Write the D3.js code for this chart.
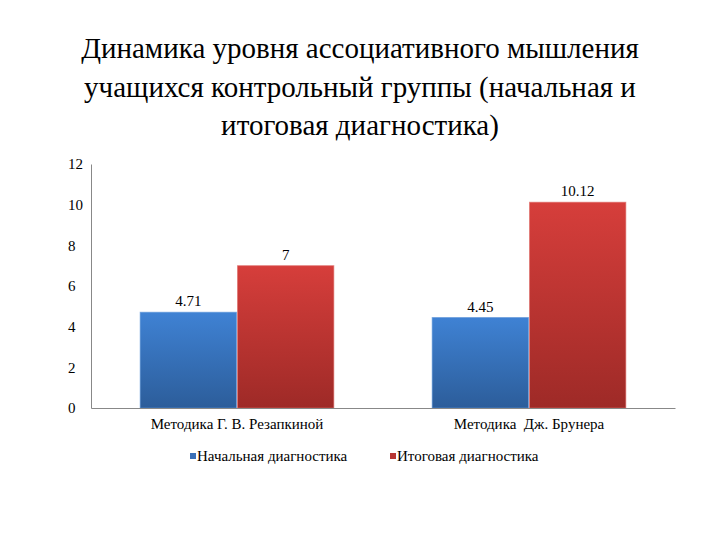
<!DOCTYPE html>
<html lang="ru"><head><meta charset="utf-8">
<script src="https://cdn.jsdelivr.net/npm/d3@7"></script>
</head><body style="margin:0">
<svg id="chart" width="720" height="540" font-family="Liberation Serif, Tinos, Noto Serif, DejaVu Serif, serif"></svg>
<script>
const titleLines = ["Динамика уровня ассоциативного мышления", "учащихся контрольный группы (начальная и", "итоговая диагностика)"];
const categories = ["Методика Г. В. Резапкиной", "Методика  Дж. Брунера"];
const seriesNames = ["Начальная диагностика", "Итоговая диагностика"];
const initialValues = [4.71, 4.45];
const finalValues = [7, 10.12];
const valueLabels = [["4.71", "4.45"], ["7", "10.12"]];
const yTicks = [0, 2, 4, 6, 8, 10, 12];

const FONT = '"Liberation Serif", "Tinos", "Noto Serif", "DejaVu Serif", serif';
const svg = d3.select("#chart");
const defs = svg.append("defs");
const grads = [["#3f82d4", "#2c5d9a", "#5b94d8"], ["#d63e3b", "#9e2a27", "#dd6a66"]];
grads.forEach((g, i) => {
  const lg = defs.append("linearGradient").attr("id", "g" + i).attr("x1", 0).attr("y1", 0).attr("x2", 0).attr("y2", 1);
  lg.append("stop").attr("offset", "0%").attr("stop-color", g[0]);
  lg.append("stop").attr("offset", "100%").attr("stop-color", g[1]);
});

// title: one text element per line
titleLines.forEach((t, i) => {
  svg.append("text").attr("x", 360).attr("y", 58 + i * 38.5).attr("text-anchor", "middle")
    .style("font-family", FONT).attr("font-size", 29).attr("fill", "#000").text(t);
});

const pLeft = 91, pRight = 675, pTop = 164, pBottom = 408;
const x0 = d3.scaleBand().domain(categories).range([pLeft, pRight]).padding(0);
const x1 = d3.scaleBand().domain([0, 1]).range([0, x0.bandwidth()]).paddingInner(0).paddingOuter(0.5);
const y = d3.scaleLinear().domain([0, 12]).range([pBottom, pTop]);

const series = [initialValues, finalValues];
const data = [];
categories.forEach((c, ci) => series.forEach((s, si) => data.push({c, ci, si, v: s[ci], label: valueLabels[si][ci]})));

svg.append("g").selectAll("rect").data(data).join("rect")
  .attr("x", d => x0(d.c) + x1(d.si) + 0.5)
  .attr("y", d => y(d.v))
  .attr("width", x1.bandwidth() - 1)
  .attr("height", d => y(0) - y(d.v))
  .attr("fill", d => `url(#g${d.si})`)
  .attr("stroke", d => grads[d.si][2]).attr("stroke-width", 1).attr("stroke-opacity", 0.6);

data.forEach(d => {
  svg.append("text")
    .attr("x", x0(d.c) + x1(d.si) + x1.bandwidth() / 2)
    .attr("y", y(d.v) - 6)
    .attr("text-anchor", "middle").style("font-family", FONT).attr("font-size", 15).attr("fill", "#000")
    .text(d.label);
});

// y axis
const yAxis = svg.append("g").attr("transform", `translate(${pLeft},0)`)
  .call(d3.axisLeft(y).tickValues(yTicks).tickSize(0).tickPadding(12));
yAxis.attr("font-family", null).attr("font-size", null);
yAxis.select(".domain").attr("stroke", "#888");
yAxis.selectAll(".tick text").style("font-family", FONT).attr("font-size", 15).attr("fill", "#000")
  .attr("text-anchor", "start").attr("x", -23);

// x axis
const xAxis = svg.append("g").attr("transform", `translate(0,${pBottom})`)
  .call(d3.axisBottom(x0).tickSize(0).tickPadding(10));
xAxis.attr("font-family", null).attr("font-size", null);
xAxis.select(".domain").attr("stroke", "#888");
xAxis.selectAll(".tick text").style("font-family", FONT).attr("font-size", 15).attr("fill", "#000").style("white-space", "pre");

// legend
const legX = [190, 390];
const colors = ["#3a6fb8", "#b83633"];
seriesNames.forEach((n, i) => {
  svg.append("rect").attr("x", legX[i]).attr("y", 453).attr("width", 6).attr("height", 6).attr("fill", colors[i]);
  svg.append("text").attr("x", legX[i] + 7).attr("y", 461).style("font-family", FONT).attr("font-size", 15).attr("fill", "#000").text(n);
});
</script>
</body></html>
